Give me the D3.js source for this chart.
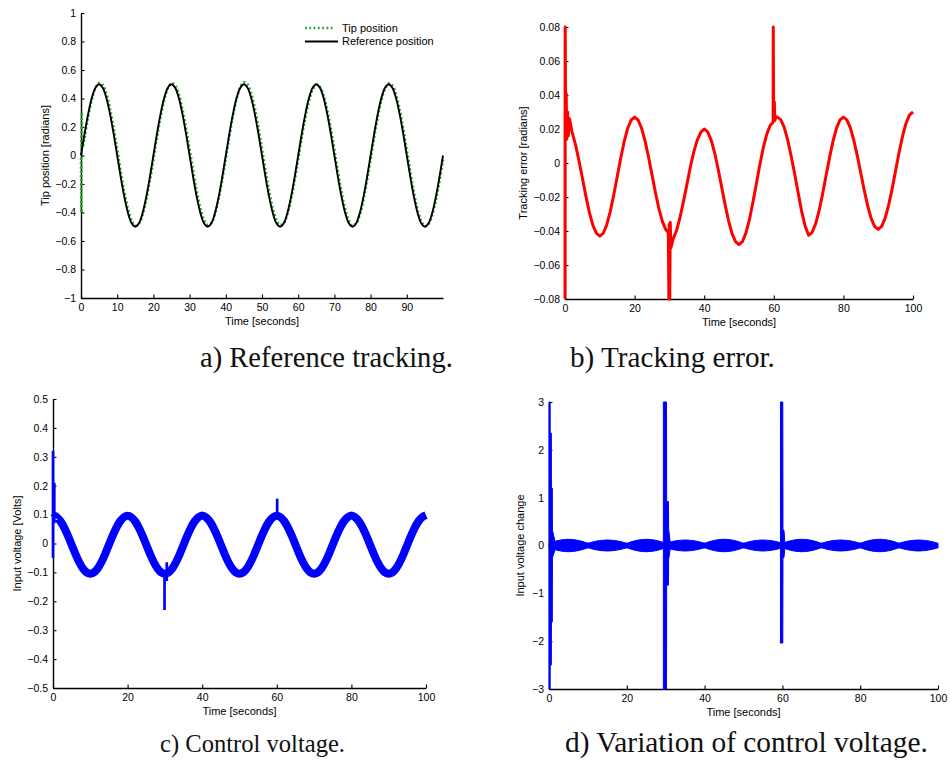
<!DOCTYPE html>
<html>
<head>
<meta charset="utf-8">
<script src="https://cdn.jsdelivr.net/npm/d3@7"></script>
<style>
body { margin: 0; background: #fff; }
svg { display: block; }
.tick text { font-family: "Liberation Sans", Arial, sans-serif; font-size: 10.5px; fill: #000; }
.lab { font-family: "Liberation Sans", Arial, sans-serif; font-size: 11px; fill: #000; }
.cap { font-family: "Liberation Serif", "Times New Roman", serif; fill: #111; }
</style>
</head>
<body>
<svg id="fig" width="950" height="766"></svg>
<script>
// ---- data ----
// a) reference and tip position, sampled every second from t = 0 to 100
var refPos = [
  0, 0.155, 0.294, 0.405, 0.476, 0.5, 0.476, 0.405, 0.294, 0.155, 0, -0.155, -0.294, -0.405, -0.476, -0.5, -0.476, -0.405, -0.294, -0.155,
  0, 0.155, 0.294, 0.405, 0.476, 0.5, 0.476, 0.405, 0.294, 0.155, 0, -0.155, -0.294, -0.405, -0.476, -0.5, -0.476, -0.405, -0.294, -0.155,
  0, 0.155, 0.294, 0.405, 0.476, 0.5, 0.476, 0.405, 0.294, 0.155, 0, -0.155, -0.294, -0.405, -0.476, -0.5, -0.476, -0.405, -0.294, -0.155,
  0, 0.155, 0.294, 0.405, 0.476, 0.5, 0.476, 0.405, 0.294, 0.155, 0, -0.155, -0.294, -0.405, -0.476, -0.5, -0.476, -0.405, -0.294, -0.155,
  0, 0.155, 0.294, 0.405, 0.476, 0.5, 0.476, 0.405, 0.294, 0.155, 0, -0.155, -0.294, -0.405, -0.476, -0.5, -0.476, -0.405, -0.294, -0.155,
  0
];
// tip position for t = 1..100, plus the start transient
var tipStart = [[0, -0.02], [0.08, -0.4], [0.2, 0.3], [0.45, 0.06]];
var tipPos = [
  0.131, 0.275, 0.394, 0.474, 0.509, 0.495, 0.434, 0.330, 0.196, 0.043,
  -0.113, -0.258, -0.376, -0.457, -0.492, -0.478, -0.417, -0.314, -0.180, -0.027,
  0.129, 0.273, 0.392, 0.472, 0.507, 0.493, 0.432, 0.328, 0.194, 0.046,
  -0.110, -0.254, -0.372, -0.453, -0.487, -0.473, -0.411, -0.307, -0.173, -0.020,
  0.136, 0.280, 0.399, 0.479, 0.514, 0.500, 0.439, 0.335, 0.201, 0.048,
  -0.108, -0.253, -0.371, -0.452, -0.488, -0.475, -0.414, -0.311, -0.177, -0.025,
  0.128, 0.268, 0.384, 0.462, 0.496, 0.482, 0.422, 0.322, 0.192, 0.043,
  -0.114, -0.258, -0.376, -0.457, -0.492, -0.479, -0.417, -0.314, -0.180, -0.027,
  0.129, 0.273, 0.391, 0.471, 0.506, 0.492, 0.430, 0.327, 0.192, 0.039,
  -0.117, -0.262, -0.380, -0.460, -0.496, -0.482, -0.420, -0.317, -0.183, -0.030
];

// b) tracking error [t, value]
var trackErr = [
  [0, -0.08], [0.04, 0.08], [0.2, 0.02], [0.35, 0.041], [0.5, 0.014], [0.75, 0.03], [0.95, 0.016], [1.3, 0.026],
  [2, 0.0185], [3, 0.011], [4, 0.0015], [5, -0.009], [6, -0.0195], [7, -0.029], [8, -0.0365], [9, -0.0413], [10, -0.043],
  [11, -0.0413], [12, -0.0363], [13, -0.0286], [14, -0.0188], [15, -0.008], [16, 0.0028], [17, 0.0126], [18, 0.0203], [19, 0.0253], [20, 0.027],
  [21, 0.0253], [22, 0.0205], [23, 0.013], [24, 0.0035], [25, -0.007], [26, -0.0175], [27, -0.027], [28, -0.0345], [29, -0.0393],
  [29.7, -0.041], [29.85, -0.08], [29.95, -0.036], [30.1, -0.08], [30.25, -0.035], [30.4, -0.05], [30.7, -0.048],
  [31, -0.045], [32, -0.040], [33, -0.0325], [34, -0.023], [35, -0.013], [36, -0.0025], [37, 0.0065], [38, 0.0135], [39, 0.018], [40, 0.02],
  [41, 0.0183], [42, 0.0135], [43, 0.006], [44, -0.0035], [45, -0.014], [46, -0.0245], [47, -0.034], [48, -0.0415], [49, -0.0463], [50, -0.048],
  [51, -0.0462], [52, -0.0411], [53, -0.0332], [54, -0.0231], [55, -0.012], [56, -0.0009], [57, 0.0092], [58, 0.0171], [59, 0.0222],
  [59.6, 0.0235], [59.8, 0.024], [59.85, 0.08], [59.95, 0.025], [60.15, 0.036], [60.3, 0.025], [60.6, 0.027],
  [61, 0.027], [62, 0.0255], [63, 0.021], [64, 0.0135], [65, 0.004], [66, -0.0065], [67, -0.0175], [68, -0.0285], [69, -0.037], [70, -0.0425],
  [71, -0.0408], [72, -0.0359], [73, -0.0282], [74, -0.0185], [75, -0.0077], [76, 0.003], [77, 0.0127], [78, 0.0204], [79, 0.0253], [80, 0.027],
  [81, 0.0254], [82, 0.0207], [83, 0.0134], [84, 0.0042], [85, -0.006], [86, -0.0162], [87, -0.0254], [88, -0.0327], [89, -0.0374], [90, -0.039],
  [91, -0.0373], [92, -0.0324], [93, -0.0248], [94, -0.0152], [95, -0.0045], [96, 0.0062], [97, 0.0158], [98, 0.0234], [99, 0.0283], [100, 0.03]
];

// c) control voltage, every second from t = 1 to 100, and its spikes [t, low, high]
var ctrlStart = [[0.3, 0.09], [0.6, 0.095]];
var ctrlVolt = [
  0.091, 0.077, 0.055, 0.027, -0.0045, -0.036, -0.064, -0.086, -0.100, -0.105, -0.100, -0.086, -0.064, -0.036, -0.0045, 0.027, 0.055, 0.077, 0.091, 0.096,
  0.091, 0.077, 0.055, 0.027, -0.0045, -0.036, -0.064, -0.086, -0.100, -0.105, -0.100, -0.086, -0.064, -0.036, -0.0045, 0.027, 0.055, 0.077, 0.091, 0.097,
  0.091, 0.077, 0.055, 0.027, -0.0045, -0.036, -0.064, -0.086, -0.100, -0.105, -0.100, -0.086, -0.064, -0.036, -0.0045, 0.027, 0.055, 0.077, 0.091, 0.096,
  0.091, 0.077, 0.055, 0.027, -0.0045, -0.036, -0.064, -0.086, -0.100, -0.105, -0.100, -0.086, -0.064, -0.036, -0.0045, 0.027, 0.055, 0.077, 0.091, 0.097,
  0.091, 0.077, 0.055, 0.027, -0.0045, -0.036, -0.064, -0.086, -0.100, -0.105, -0.100, -0.086, -0.064, -0.036, -0.0045, 0.027, 0.055, 0.077, 0.091, 0.098
];
var ctrlSpikes = [[0, -0.05, 0.32], [0.35, 0.07, 0.21], [29.9, -0.23, -0.1], [30.5, -0.13, -0.065], [60.1, 0.09, 0.155]];

// d) variation of control voltage: half width of the noise band every second (t = 0..100)
var dvBand = [
  0.05, 0.075, 0.097, 0.115, 0.126, 0.13, 0.126, 0.115, 0.097, 0.075,
  0.05, 0.07, 0.088, 0.102, 0.111, 0.115, 0.111, 0.102, 0.088, 0.07,
  0.05, 0.075, 0.097, 0.115, 0.126, 0.13, 0.126, 0.115, 0.097, 0.075,
  0.05, 0.07, 0.088, 0.102, 0.111, 0.115, 0.111, 0.102, 0.088, 0.07,
  0.05, 0.075, 0.097, 0.115, 0.126, 0.13, 0.126, 0.115, 0.097, 0.075,
  0.05, 0.07, 0.088, 0.102, 0.111, 0.115, 0.111, 0.102, 0.088, 0.07,
  0.05, 0.075, 0.097, 0.115, 0.126, 0.13, 0.126, 0.115, 0.097, 0.075,
  0.05, 0.07, 0.088, 0.102, 0.111, 0.115, 0.111, 0.102, 0.088, 0.07,
  0.05, 0.075, 0.097, 0.115, 0.126, 0.13, 0.126, 0.115, 0.097, 0.075,
  0.05, 0.07, 0.088, 0.102, 0.111, 0.115, 0.111, 0.102, 0.088, 0.07,
  0.05
];
// spikes [t, low, high]
var dvSpikes = [
  [[0, -3, 3], [0.28, -3, 3], [0.3, -2.5, 2.35], [0.6, -2.5, 2.35], [0.62, -1.6, 1.2], [0.85, -1.6, 1.2], [0.88, -0.26, 0.32], [1.1, -0.2, 0.25], [1.5, -0.1, 0.1]],
  [[29.4, -3, 3], [30.2, -3, 3], [30.25, -0.83, 0.92], [30.7, -0.83, 0.92], [30.75, -0.3, 0.35], [31.1, -0.1, 0.1]],
  [[59.5, -2.04, 3], [60.1, -2.04, 3], [60.15, -0.25, 0.32], [60.4, -0.25, 0.32], [60.6, -0.1, 0.1]]
];

// ticks and texts
var xTicksA = [0, 10, 20, 30, 40, 50, 60, 70, 80, 90];
var xTicks = [0, 20, 40, 60, 80, 100];
var yTicksA = [-1, -0.8, -0.6, -0.4, -0.2, 0, 0.2, 0.4, 0.6, 0.8, 1];
var yTicksB = [-0.08, -0.06, -0.04, -0.02, 0, 0.02, 0.04, 0.06, 0.08];
var yTicksC = [-0.5, -0.4, -0.3, -0.2, -0.1, 0, 0.1, 0.2, 0.3, 0.4, 0.5];
var yTicksD = [-3, -2, -1, 0, 1, 2, 3];
var yLabels = ["Tip position [radians]", "Tracking error [radians]", "Input voltage [Volts]", "Input voltage change"];
var xLabel = "Time [seconds]";
var legendLabels = ["Tip position", "Reference position"];
var captions = ["a) Reference tracking.", "b) Tracking error.", "c) Control voltage.", "d) Variation of control voltage."];

// ---- layout ----
var svg = d3.select("#fig");
var fmt = function(d) { return d3.format("~g")(+d.toFixed(4)); };

function frame(p, yDom, xt, yt, ylab) {
    var x = d3.scaleLinear().domain([0, 100]).range([p.l, p.r]);
    var y = d3.scaleLinear().domain(yDom).range([p.b, p.t]);
    var g = svg.append("g");

    var ax = g.append("g")
	.attr("transform", "translate(0," + p.b + ")")
	.call(d3.axisBottom(x).tickValues(xt).tickFormat(fmt).tickSizeInner(-3.5).tickSizeOuter(0).tickPadding(5.5));
    var ay = g.append("g")
	.attr("transform", "translate(" + p.l + ",0)")
	.call(d3.axisLeft(y).tickValues(yt).tickFormat(fmt).tickSizeInner(-3.5).tickSizeOuter(0).tickPadding(5));
    [ax, ay].forEach(function(a) {
	a.select(".domain").attr("stroke", "#000").attr("stroke-width", 1.4);
	a.selectAll(".tick line").attr("stroke", "#000").attr("stroke-width", 1.1);
	a.selectAll(".tick text").attr("font-size", null).attr("font-family", null);
    });

    g.append("text").attr("class", "lab")
	.attr("x", (p.l + p.r) / 2).attr("y", p.b + 27)
	.attr("text-anchor", "middle").text(xLabel);
    g.append("text").attr("class", "lab")
	.attr("transform", "translate(" + (p.l - p.yl) + "," + ((p.t + p.b) / 2) + ") rotate(-90)")
	.attr("text-anchor", "middle").text(ylab);
    return { g: g, x: x, y: y };
}

// a) reference tracking
var A = frame({ l: 81, r: 443, t: 13, b: 298, yl: 32 }, [-1, 1], xTicksA, yTicksA, yLabels[0]);
var lineA = d3.line().x(function(d) { return A.x(d[0]); }).y(function(d) { return A.y(d[1]); });
var tipData = tipStart.concat(tipPos.map(function(v, i) { return [i + 1, v]; }));
var refData = refPos.map(function(v, i) { return [i, v]; });
A.g.append("path").datum(tipData)
    .attr("d", lineA.curve(d3.curveCatmullRom))
    .attr("fill", "none").attr("stroke", "#1faa1f").attr("stroke-width", 2.6).attr("stroke-dasharray", "1.8,2.5");
A.g.append("path").datum(refData)
    .attr("d", lineA.curve(d3.curveCatmullRom))
    .attr("fill", "none").attr("stroke", "#000").attr("stroke-width", 1.9);

var leg = A.g.append("g");
leg.append("line").attr("x1", 305).attr("x2", 335).attr("y1", 28).attr("y2", 28)
    .attr("stroke", "#1faa1f").attr("stroke-width", 2.4).attr("stroke-dasharray", "1.8,2.5");
leg.append("line").attr("x1", 305).attr("x2", 338).attr("y1", 41.5).attr("y2", 41.5)
    .attr("stroke", "#000").attr("stroke-width", 1.8);
legendLabels.forEach(function(s, i) {
    leg.append("text").attr("class", "lab").attr("font-size", 10.5)
	.attr("x", 342).attr("y", 28 + i * 13.5).attr("dy", "0.35em").text(s);
});

// b) tracking error
var B = frame({ l: 565, r: 913, t: 27, b: 299, yl: 38 }, [-0.08, 0.08], xTicks, yTicksB, yLabels[1]);
B.g.append("path").datum(trackErr)
    .attr("d", d3.line().x(function(d) { return B.x(d[0]); }).y(function(d) { return B.y(d[1]); }))
    .attr("fill", "none").attr("stroke", "#ff0000").attr("stroke-width", 3).attr("stroke-linejoin", "round");

// c) control voltage
var C = frame({ l: 53, r: 426, t: 399, b: 688, yl: 32 }, [-0.5, 0.5], xTicks, yTicksC, yLabels[2]);
var ctrlData = ctrlStart.concat(ctrlVolt.map(function(v, i) { return [i + 1, v]; }));
C.g.append("path").datum(ctrlData)
    .attr("d", d3.line().curve(d3.curveCatmullRom).x(function(d) { return C.x(d[0]); }).y(function(d) { return C.y(d[1]); }))
    .attr("fill", "none").attr("stroke", "#0000ff").attr("stroke-width", 8);
C.g.selectAll(".spike").data(ctrlSpikes).enter().append("line")
    .attr("x1", function(d) { return C.x(d[0]); }).attr("x2", function(d) { return C.x(d[0]); })
    .attr("y1", function(d) { return C.y(d[1]); }).attr("y2", function(d) { return C.y(d[2]); })
    .attr("stroke", "#0000ff").attr("stroke-width", 2.7);

// d) variation of control voltage
var D = frame({ l: 549, r: 938, t: 402, b: 689, yl: 25 }, [-3, 3], xTicks, yTicksD, yLabels[3]);
var areaD = d3.area()
    .x(function(d) { return D.x(d[0]); })
    .y0(function(d) { return D.y(d[1]); })
    .y1(function(d) { return D.y(d[2]); });
var bandData = dvBand.map(function(h, i) { return [i, -h, h]; });
D.g.append("path").datum(bandData)
    .attr("d", areaD.curve(d3.curveCatmullRom))
    .attr("fill", "#0000ff").attr("stroke", "#0000ff").attr("stroke-width", 1);
D.g.selectAll(".spk").data(dvSpikes).enter().append("path")
    .attr("d", areaD.curve(d3.curveLinear))
    .attr("fill", "#0000ff").attr("stroke", "#0000ff").attr("stroke-width", 1);

// captions
var capPos = [[200, 367, 253], [570, 367, 205], [160, 752, 185], [565, 752, 363]];
captions.forEach(function(s, i) {
    var t = svg.append("text").attr("class", "cap")
	.attr("x", capPos[i][0]).attr("y", capPos[i][1])
	.attr("font-size", 24).text(s);
    var len = t.node().getComputedTextLength();
    t.attr("font-size", 24 * capPos[i][2] / len);
});
</script>
</body>
</html>
